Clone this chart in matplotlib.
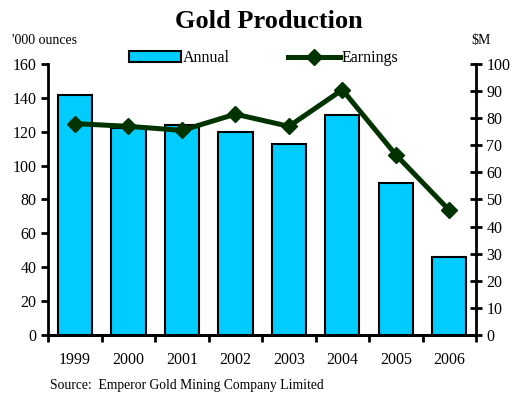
import matplotlib
matplotlib.use("Agg")
import matplotlib.pyplot as plt
import numpy as np

years = ["1999", "2000", "2001", "2002", "2003", "2004", "2005", "2006"]
annual = [142, 122, 124, 120, 113, 130, 90, 46]       # '000 ounces
earnings = [78, 77, 75.5, 81.5, 77, 90.5, 66.5, 46]   # $M

plt.rcParams['font.family'] = ['Liberation Serif', 'DejaVu Serif']

fig = plt.figure(figsize=(5.13, 3.93), dpi=100)
ax1 = fig.add_axes([0.094, 0.148, 0.834, 0.689])
ax2 = ax1.twinx()

x = np.arange(len(years))
ax1.bar(x, annual, width=0.64, color='#00CCFF', edgecolor='black',
        linewidth=1.5, label='Annual', zorder=2)
ax2.plot(x, earnings, color='#003300', linewidth=3.6, marker='D',
         markersize=8, label='Earnings')

ax1.set_xlim(-0.5, len(years) - 0.5)
ax1.set_ylim(0, 160)
ax1.set_yticks(range(0, 161, 20))
ax2.set_ylim(0, 100)
ax2.set_yticks(range(0, 101, 10))

ax1.set_xticks(x)
ax1.set_xticklabels(years)
ax1.set_xticks(np.arange(-0.5, len(years)), minor=True)
ax1.tick_params(axis='x', which='major', length=0, pad=12, labelsize=11.5)
ax1.tick_params(axis='x', which='minor', length=5, width=2, direction='out')
ax1.tick_params(axis='y', length=5, width=2, direction='out', labelsize=11.5)
ax2.tick_params(axis='y', length=8, width=2, direction='inout', labelsize=11.5)

for ax in (ax1, ax2):
    ax.spines['top'].set_visible(False)
    for s in ('left', 'right', 'bottom'):
        ax.spines[s].set_linewidth(2)
ax2.spines['left'].set_visible(False)
ax1.spines['right'].set_visible(False)

fig.text(0.525, 0.945, 'Gold Production', ha='center', va='center',
         fontsize=19, fontweight='bold')
fig.text(0.023, 0.898, "'000 ounces", ha='left', va='center', fontsize=10)
fig.text(0.918, 0.898, '$M', ha='left', va='center', fontsize=10)
fig.text(0.097, 0.02, 'Source:  Emperor Gold Mining Company Limited',
         ha='left', va='center', fontsize=9.8)

h1, l1 = ax1.get_legend_handles_labels()
h2, l2 = ax2.get_legend_handles_labels()
fig.legend(h1 + h2, l1 + l2, loc='center', bbox_to_anchor=(0.514, 0.852),
           ncol=2, frameon=False, fontsize=11.5, handlelength=3.3,
           handletextpad=0.1, columnspacing=3.6, borderaxespad=0)

fig.savefig('out.png', dpi=100)
